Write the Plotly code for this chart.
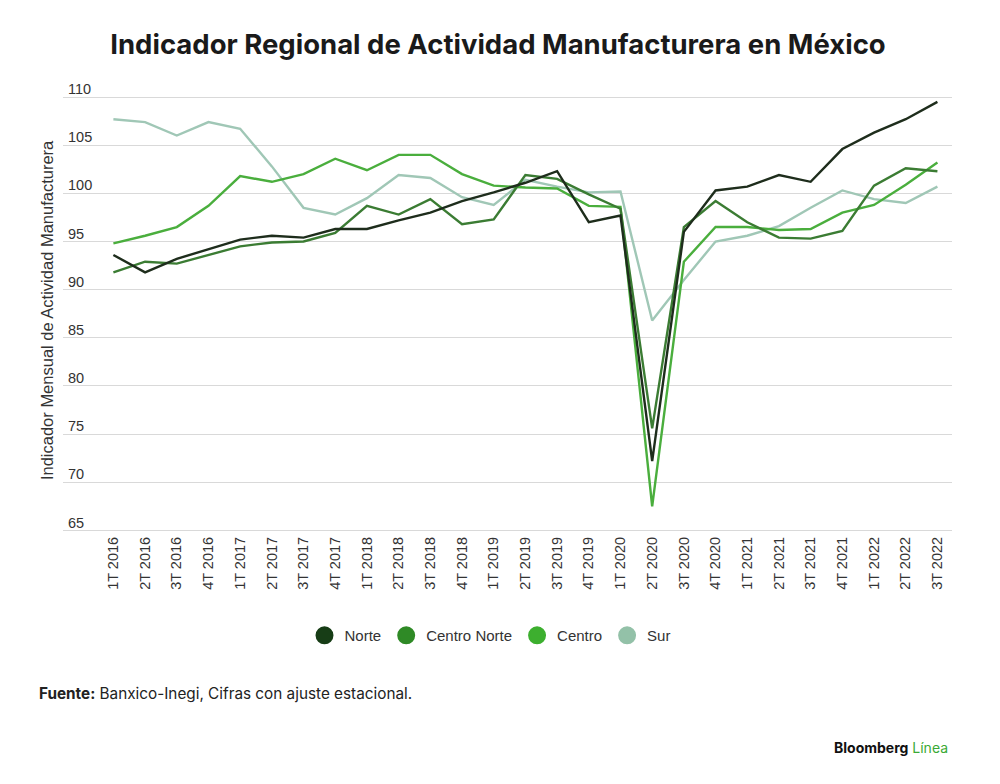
import plotly.graph_objects as go

# trimestres 1T 2016 .. 3T 2022
trimestres = [f"{q}T {y}" for y in range(2016, 2023) for q in range(1, 5)][:27]

norte = [93.6, 91.8, 93.2, 94.2, 95.2, 95.6, 95.4, 96.3, 96.3, 97.2, 98.0, 99.2, 100.1,
         101.1, 102.3, 97.0, 97.7, 72.2, 96.0, 100.3, 100.7, 101.9, 101.2, 104.6, 106.3,
         107.7, 109.5]
centro_norte = [91.8, 92.9, 92.7, 93.6, 94.5, 94.9, 95.0, 95.9, 98.7, 97.8, 99.4, 96.8, 97.3,
                101.9, 101.5, 99.9, 98.4, 75.6, 96.5, 99.2, 97.0, 95.4, 95.3, 96.1, 100.8,
                102.6, 102.3]
centro = [94.8, 95.6, 96.5, 98.7, 101.8, 101.2, 102.0, 103.6, 102.4, 104.0, 104.0, 102.0, 100.8,
          100.6, 100.5, 98.7, 98.6, 67.5, 92.9, 96.5, 96.5, 96.2, 96.3, 98.0, 98.8, 100.9,
          103.2]
sur = [107.7, 107.4, 106.0, 107.4, 106.7, 102.8, 98.5, 97.8, 99.5, 101.9, 101.6, 99.6, 98.8,
       101.4, 100.7, 100.1, 100.2, 86.8, 91.0, 95.0, 95.6, 96.6, 98.5, 100.3, 99.4, 99.0,
       100.7]
y_ticks = [65, 70, 75, 80, 85, 90, 95, 100, 105, 110]

series = [
    ("Norte", norte, "#1e2d1c", "#173d16"),
    ("Centro Norte", centro_norte, "#3b7c33", "#2f8a26"),
    ("Centro", centro, "#4aae3d", "#3daf2f"),
    ("Sur", sur, "#a0c7b6", "#93c1a8"),
]

# la página añade 8px de margen al cuerpo
OFF = 8
W, H = 1000, 784
Y_LO, Y_HI = 63.8, 112.6
unit = (530 - 97.3) / 45
bottom_px = 530 + (65 - Y_LO) * unit
top_px = 97.3 - (Y_HI - 110) * unit
L, R, T, B = 63 - OFF, W - (952 - OFF), top_px - OFF, H - (bottom_px - OFF)
PW, PH = W - L - R, H - T - B


def px_x(x):
    return (x - OFF - L) / PW


def px_y(y):
    return (H - B - (y - OFF)) / PH


fig = go.Figure()

# dibujar de atrás hacia adelante
for nombre, vals, color, _ in reversed(series):
    fig.add_trace(go.Scatter(x=trimestres, y=vals, mode="lines", name=nombre,
                             line=dict(color=color, width=2.4), showlegend=False,
                             hoverinfo="x+y+name"))

# leyenda con círculos
for nombre, _, _, color_ley in series:
    fig.add_trace(go.Scatter(x=[None], y=[None], mode="markers", name=nombre,
                             marker=dict(color=color_ley, size=16, symbol="circle",
                                         line=dict(color=color_ley, width=2))))

fig.update_layout(
    width=W, height=H,
    paper_bgcolor="white", plot_bgcolor="white",
    margin=dict(l=L, r=R, t=T, b=B, autoexpand=False),
    font=dict(family="Liberation Sans, Arial, sans-serif", color="#333333", size=14),
    title=dict(text="<b>Indicador Regional de Actividad Manufacturera en México</b>",
               x=px_x(498), xref="paper", xanchor="center",
               y=1 - (44 - OFF) / H, yanchor="middle",
               font=dict(family="Inter, sans-serif", size=27.5, color="#1a1a1a")),
    showlegend=True,
    legend=dict(orientation="h", x=px_x(490), xanchor="center", y=px_y(635),
                yanchor="middle", font=dict(size=15, color="#333333"),
                itemsizing="trace", traceorder="normal"),
    xaxis=dict(type="category", range=[-1.59, 26.46], showgrid=False, showline=False,
               ticks="", tickangle=-90, tickfont=dict(size=14.5, color="#333333"),
               ticklabelstandoff=-9, fixedrange=True),
    yaxis=dict(range=[Y_LO, Y_HI], tickvals=y_ticks,
               showgrid=True, gridcolor="#d9d9d9", gridwidth=1, zeroline=False,
               showline=False, ticks="", ticklabelposition="inside", ticklabelshift=-8,
               ticklabelstandoff=2, tickfont=dict(size=14.5, color="#333333")),
    annotations=[
        dict(text="Indicador Mensual de Actividad Manufacturera", textangle=-90,
             xref="paper", yref="paper", x=px_x(47), y=px_y(310), xanchor="center",
             yanchor="middle", showarrow=False, font=dict(size=16.5, color="#333333")),
        dict(text="<b>Fuente:</b> Banxico-Inegi, Cifras con ajuste estacional.",
             xref="paper", yref="paper", x=px_x(37), y=px_y(693),
             xanchor="left", yanchor="middle", showarrow=False,
             font=dict(family="Inter, sans-serif", size=15.3, color="#222222")),
        dict(text="<b>Bloomberg</b> <span style='color:#3aaa35'>Línea</span>",
             xref="paper", yref="paper", x=px_x(950), y=px_y(747),
             xanchor="right", yanchor="middle", showarrow=False,
             font=dict(family="Inter, sans-serif", size=14, color="#111111")),
    ],
)

fig.write_html("out.html")
